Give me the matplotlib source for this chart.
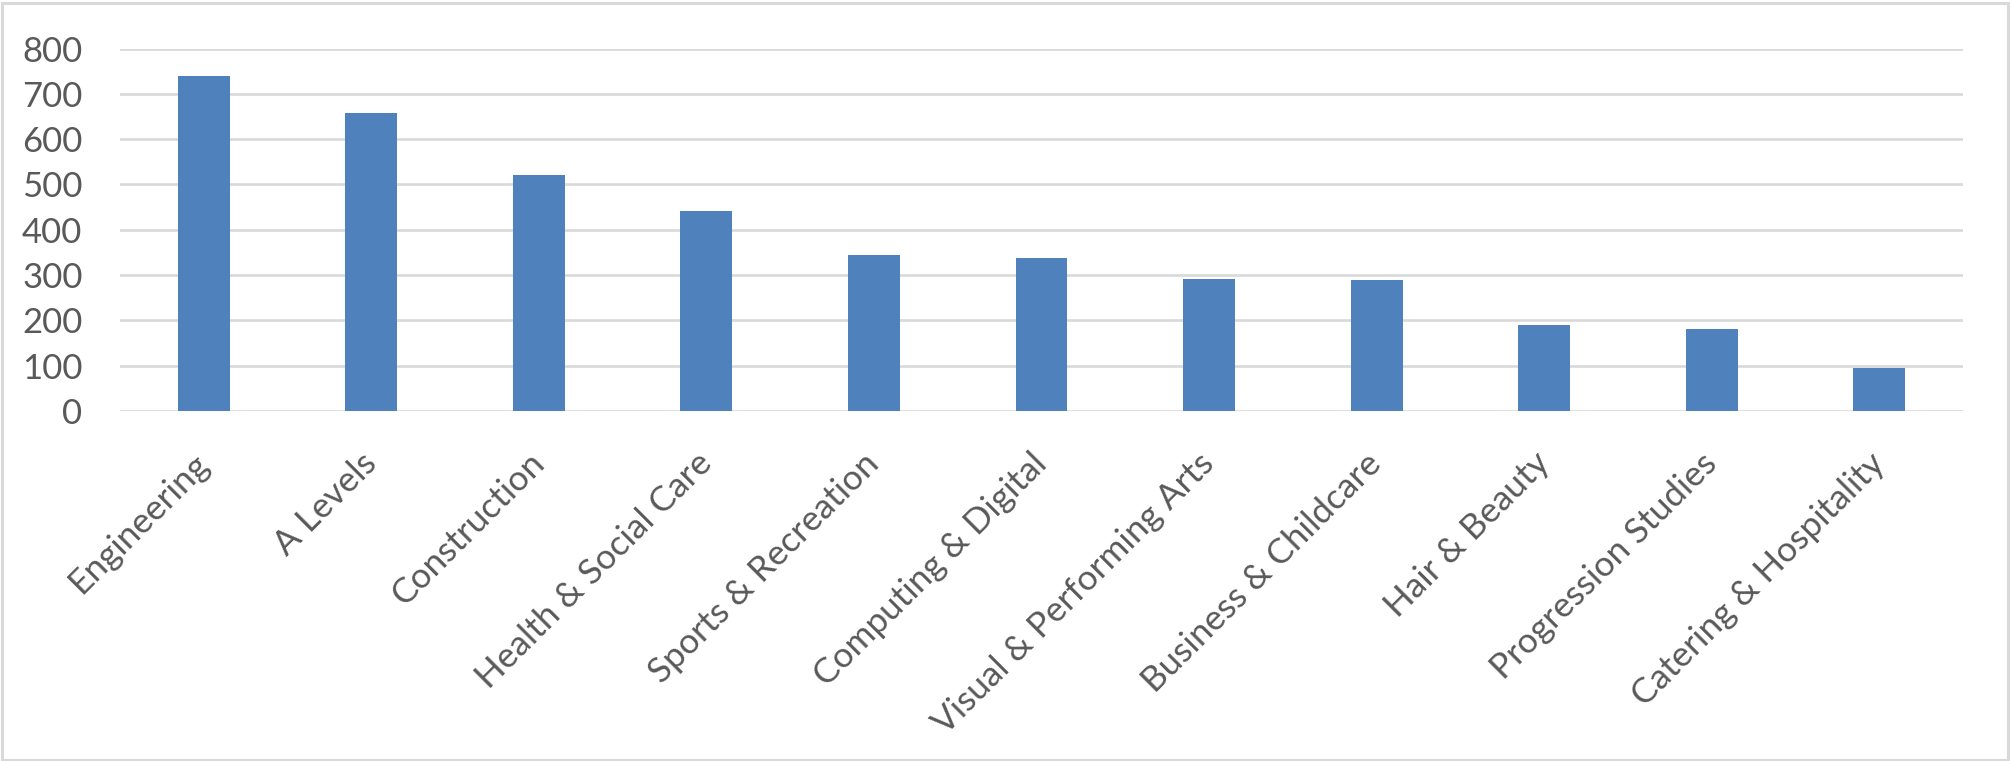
import matplotlib
matplotlib.use("Agg")
import matplotlib.pyplot as plt
from matplotlib.patches import Rectangle

categories = ["Engineering", "A Levels", "Construction", "Health & Social Care",
              "Sports & Recreation", "Computing & Digital", "Visual & Performing Arts",
              "Business & Childcare", "Hair & Beauty", "Progression Studies",
              "Catering & Hospitality"]
values = [740, 657, 521, 441, 344, 338, 291, 289, 190, 181, 95]
yticks = [0, 100, 200, 300, 400, 500, 600, 700, 800]

plt.rcParams['font.family'] = ['Lato', 'DejaVu Sans']
W, H = 2010, 761
fig = plt.figure(figsize=(W / 100, H / 100), dpi=100)
ax = fig.add_axes([120 / W, 1 - 411 / H, (1963 - 120) / W, (411 - 48.5) / H])

x = range(len(categories))
ax.bar(x, values, width=0.31, color="#4F81BD", zorder=3)
ax.set_xlim(-0.5, len(categories) - 0.5)
ax.set_ylim(0, 800)
ax.set_yticks(yticks)
ax.set_yticklabels([str(v) for v in yticks], fontsize=25)
ax.set_xticks(list(x))
ax.set_xticklabels(categories, rotation=45, ha='right', va='center',
                   rotation_mode='anchor', fontsize=25.3)

for s in ax.spines.values():
    s.set_visible(False)
ax.grid(axis='y', color="#D9D9D9", linewidth=1.9, zorder=0)
ax.set_axisbelow(True)
ax.tick_params(axis='both', length=0, colors="#595959")
ax.tick_params(axis='y', pad=27)
ax.tick_params(axis='x', pad=34)

fig.patches.append(Rectangle((1.5 / W, 1.5 / H), 1 - 4 / W, 1 - 4 / H,
                             transform=fig.transFigure, fill=False,
                             edgecolor="#D9D9D9", linewidth=2.2))

fig.savefig("out.png", dpi=100, facecolor="white")
